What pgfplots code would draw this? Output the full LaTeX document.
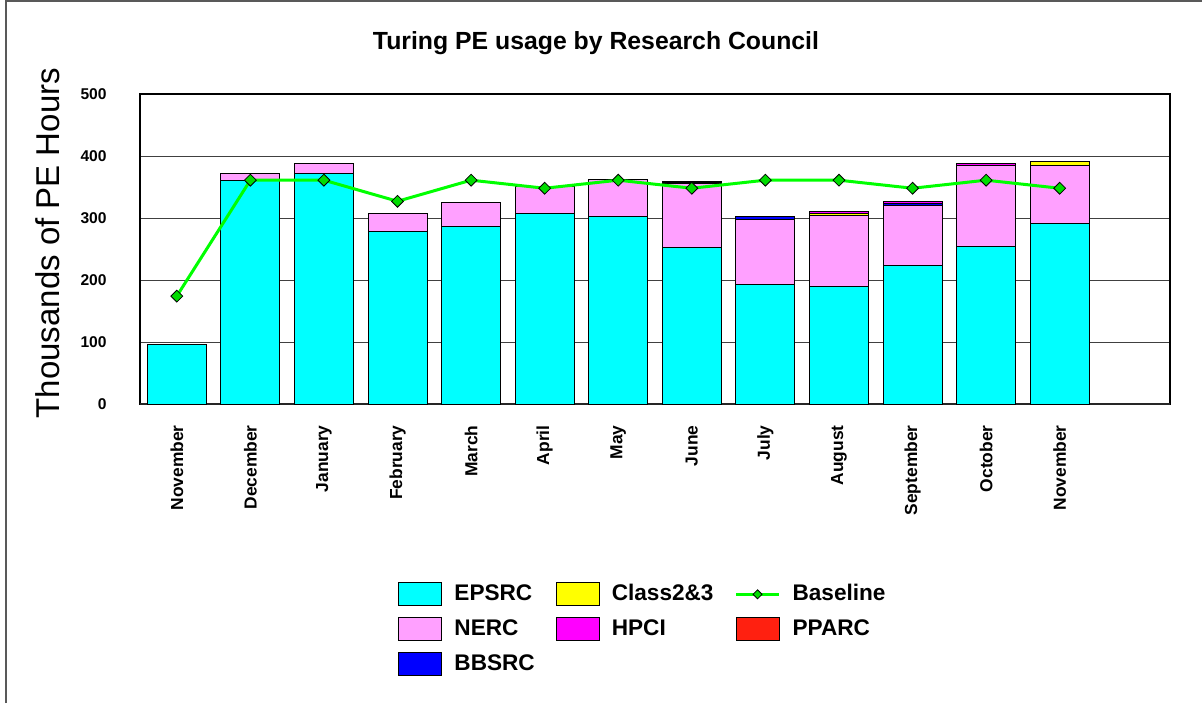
\documentclass[border=0pt]{standalone}
\usepackage{pgfplots}
\pgfplotsset{compat=1.18}
\usepackage{pgfplotstable}
\usepackage{fontspec}
\setmainfont{Liberation Sans}
\definecolor{cEPSRC}{RGB}{0,255,255}
\definecolor{cNERC}{RGB}{255,160,255}
\definecolor{cBBSRC}{RGB}{0,0,255}
\definecolor{cClass}{RGB}{255,255,0}
\definecolor{cHPCI}{RGB}{255,0,255}
\definecolor{cPPARC}{RGB}{255,32,16}
\definecolor{cBase}{RGB}{0,255,0}
\definecolor{cMark}{RGB}{0,220,0}
\pgfplotsset{
  myarea/.style={legend image code/.code={\draw[##1] (0pt,-5.75pt) rectangle (21.5pt,5.75pt);}},
  myline/.style={legend image code/.code={\draw[mark repeat=2,mark phase=2,##1] plot coordinates {(0pt,0pt) (10.75pt,0pt) (21.5pt,0pt)};}},
}
\pgfplotstableread{
x EPSRC NERC BBSRC Class HPCI PPARC Base
0 96 0 0 0 0 0 174
1 361 11 0 0 0 0 361
2 372 16 0 0 0 0 361
3 278 29.5 0 0 0 0 327
4 286.6 38 0 0 0 0 361
5 307.5 43 0 0 0 0 348
6 302 59.5 0 0 0 0 361
7 252 103 2 2 0 0 348
8 192 105 5.5 0 0 0 361
9 189 115 0 3 3 0 361
10 222.6 97.4 3.7 0 3.3 0 348
11 254 131 0 0 3 0 361
12 291 94 0 6.4 0 0 348
}\datatable
\begin{document}
\begin{tikzpicture}
\useasboundingbox (0pt,0pt) rectangle (601pt,351.5pt);
\draw[line width=1pt, black!65] (3pt,0pt) -- (3pt,351pt) -- (601pt,351pt);
\begin{axis}[
  at={(70pt,149.5pt)}, anchor=south west,
  width=515pt, height=155pt, scale only axis,
  xmin=-0.5, xmax=13.5, ymin=0, ymax=500,
  ybar stacked, bar width=29.5pt,
  ytick={0,100,...,500},
  xtick={0,...,12},
  xticklabels={November,December,January,February,March,April,May,June,July,August,September,October,November},
  major tick length=0pt,
  ymajorgrids, major grid style={black!75, line width=0.5pt},
  axis line style={black, line width=0.6pt},
  /pgf/number format/assume math mode=true,
  yticklabel style={font=\fontsize{7.8}{9}\selectfont\bfseries, inner sep=0pt, anchor=east, xshift=-16.5pt},
  xticklabel style={font=\fontsize{8.7}{10}\selectfont\bfseries, rotate=90, anchor=east, inner sep=0pt},
  xticklabel shift=10.5pt,
  title={Turing PE usage by Research Council},
  title style={font=\fontsize{12.4}{14}\selectfont\bfseries, at={(axis description cs:0.4427,1.125)}, anchor=center, inner sep=0pt, yshift=0pt},
  ylabel={Thousands of PE Hours},
  ylabel style={font=\fontsize{16.5}{19}\selectfont, at={(axis description cs:-0.0893,0.519)}, anchor=center, inner sep=0pt},
]
\addplot[fill=cEPSRC, draw=black, line width=0.5pt] table[x=x,y=EPSRC]{\datatable};
\addplot[fill=cNERC, draw=black, line width=0.5pt] table[x=x,y=NERC]{\datatable};
\addplot[fill=cBBSRC, draw=black, line width=0.5pt] table[x=x,y=BBSRC]{\datatable};
\addplot[fill=cClass, draw=black, line width=0.5pt] table[x=x,y=Class]{\datatable};
\addplot[fill=cHPCI, draw=black, line width=0.5pt] table[x=x,y=HPCI]{\datatable};
\addplot[fill=cPPARC, draw=black, line width=0.5pt] table[x=x,y=PPARC]{\datatable};
\draw[line width=1.1pt, black!85] (rel axis cs:0,0) -- (rel axis cs:1,0);
\end{axis}
\begin{axis}[
  at={(70pt,149.5pt)}, anchor=south west,
  width=515pt, height=155pt, scale only axis,
  xmin=-0.5, xmax=13.5, ymin=0, ymax=500,
  hide axis,
  legend columns=3,
  legend cell align=left,
  legend style={draw=none, fill=none, at={(axis description cs:0.2447,-0.561)}, anchor=north west,
    font=\fontsize{11.3}{13}\selectfont\bfseries,
    nodes={inner sep=0pt, text height=8.5pt, text depth=2.5pt},
    row sep=5.5pt,
    /tikz/every odd column/.append style={column sep=6pt},
    /tikz/every even column/.append style={column sep=10.5pt}},
]
\addplot[color=cBase, line width=1.5pt, mark=square*, mark size=2.1pt,
  mark options={fill=cMark, draw=black, line width=0.4pt, rotate=45}, forget plot]
  table[x=x,y=Base]{\datatable};
\addlegendimage{myarea, fill=cEPSRC, draw=black, line width=0.5pt}
\addlegendentry{EPSRC}
\addlegendimage{myarea, fill=cClass, draw=black, line width=0.5pt}
\addlegendentry{Class2\&3}
\addlegendimage{myline, color=cBase, line width=1.5pt, mark=square*, mark size=1.6pt, mark options={fill=cMark, draw=black, line width=0.4pt, rotate=45}}
\addlegendentry{Baseline}
\addlegendimage{myarea, fill=cNERC, draw=black, line width=0.5pt}
\addlegendentry{NERC}
\addlegendimage{myarea, fill=cHPCI, draw=black, line width=0.5pt}
\addlegendentry{HPCI}
\addlegendimage{myarea, fill=cPPARC, draw=black, line width=0.5pt}
\addlegendentry{PPARC}
\addlegendimage{myarea, fill=cBBSRC, draw=black, line width=0.5pt}
\addlegendentry{BBSRC}
\end{axis}
\end{tikzpicture}
\end{document}
